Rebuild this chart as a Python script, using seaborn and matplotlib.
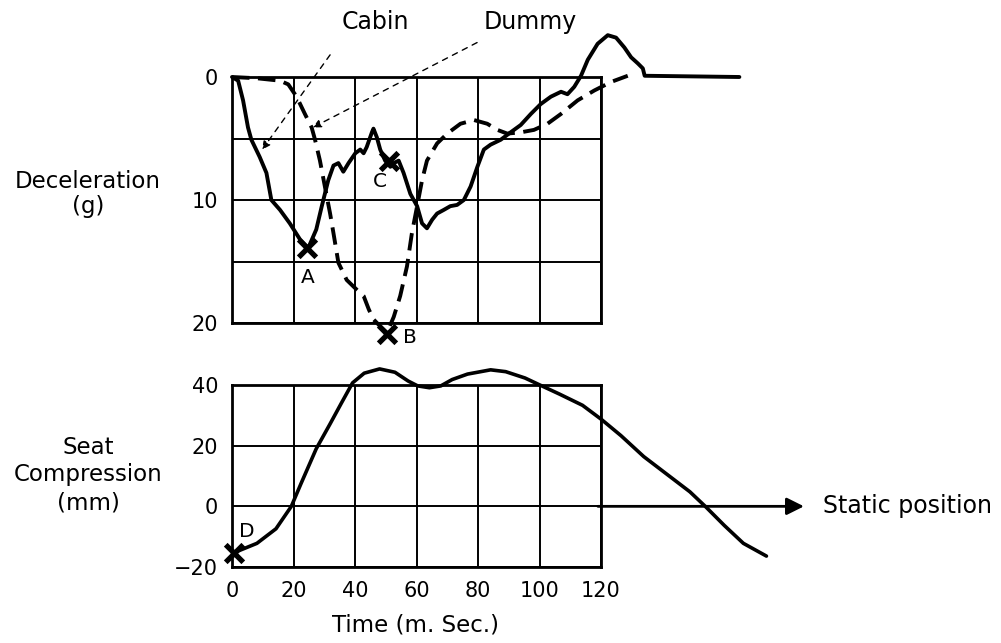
import matplotlib
matplotlib.use("Agg")
import matplotlib.pyplot as plt
import seaborn as sns

sns.set_theme(style="white")
plt.rcParams['font.family'] = ['DejaVu Sans']
plt.rcParams['text.color'] = 'black'
plt.rcParams['xtick.color'] = 'black'
plt.rcParams['ytick.color'] = 'black'

# ---------------- data ----------------
# Top panel: deceleration (g) vs time (ms)
cabin_t = [0, 2, 3.6, 5.2, 6.3, 9, 11.2, 12.8, 15.6, 18.8, 22.1, 24.8, 27.4, 29.2, 31.3, 33,
           34.6, 36.2, 37.9, 40.1, 41.7, 42.8, 43.8, 45.5, 46, 47.1, 48.2, 49.8, 51.5, 52.6,
           54.2, 55.8, 58, 60.2, 61.8, 63.4, 65.1, 66.7, 68.9, 71, 73.2, 75.4, 77.6, 79.8,
           81.9, 84.1, 87.4, 90.6, 93.9, 97.2, 100.4, 103.7, 107, 109.1, 111.3, 113.5, 115.7,
           118.9, 122.2, 124.9, 127.6, 129.8, 132, 133.6, 134.2, 165]
cabin_g = [0, 0.3, 1.9, 4.1, 5.1, 6.5, 7.8, 10, 10.8, 11.9, 13.2, 13.9, 12.4, 10.5, 8.4, 7.2,
           7, 7.7, 7, 6.2, 5.9, 6.2, 5.7, 4.5, 4.2, 4.9, 5.9, 6.8, 7.3, 7,
           6.8, 7.8, 9.5, 10.5, 11.9, 12.3, 11.6, 11.1, 10.8, 10.5, 10.4, 10, 8.9, 7.3,
           5.9, 5.5, 5.1, 4.5, 3.9, 3, 2.2, 1.6, 1.2, 1.4, 0.8, -0.1, -1.4,
           -2.7, -3.4, -3.2, -2.4, -1.6, -1.1, -0.7, -0.1, 0]

dummy_t = [0, 8, 15.6, 18.3, 21, 23.7, 25.9, 27, 28.6, 30.2, 31.9, 33, 34.6, 37.3, 40.6, 42.8,
           44.5, 46, 48.7, 50.4, 52.6, 54.7, 56.9, 58.5, 60.2, 61.8, 63.4, 66.7, 70, 74.3,
           78.7, 83, 86.3, 89.5, 93.9, 98.2, 102.6, 107, 112.4, 117.8, 123.3, 128.7]
dummy_g = [0, 0.1, 0.3, 0.6, 1.6, 3, 4.1, 5.1, 6.8, 8.9, 11.1, 12.7, 15.1, 16.5, 17.3, 17.8,
           18.9, 19.7, 20.4, 20.8, 19.5, 17.8, 15.4, 12.7, 10.5, 8.4, 6.8, 5.4, 4.6, 3.8,
           3.5, 3.8, 4.3, 4.6, 4.5, 4.3, 3.8, 3, 1.9, 1.1, 0.4, -0.1]

# Bottom panel: seat compression (mm) vs time (ms)
seat_t = [0.6, 8.1, 14.3, 19.3, 22.4, 27.4, 31.8, 35.5, 39.2, 43, 48, 53, 57.3, 60.4, 64.2,
          67.9, 71.6, 76.6, 84.1, 89, 95.3, 99.7, 106.5, 114, 120.2, 126.5, 133.9, 141.4,
          148.9, 153.9, 160.1, 166.3, 173.8]
seat_mm = [-15.3, -12.2, -7.4, 0, 7.4, 19, 27, 33.9, 40.7, 43.9, 45.3, 44.2, 41.3, 39.7, 39.1,
           39.7, 41.8, 43.6, 45, 44.4, 42.3, 40.2, 37, 33.3, 28.6, 23.3, 16.4, 10.6,
           4.8, 0, -6.3, -12.2, -16.4]

# marked points
marks_top_t = [24.5, 50.4, 50.9]
marks_top_g = [13.9, 20.9, 6.8]
marks_top_lbl = ["A", "B", "C"]
mark_bot_t = [0.5]
mark_bot_mm = [-15.5]
mark_bot_lbl = ["D"]

time_ticks = [0, 20, 40, 60, 80, 100, 120]
decel_ticks = [0, 5, 10, 15, 20]
decel_labels = ["0", "", "10", "", "20"]
seat_ticks = [-20, 0, 20, 40]
seat_labels = ["\u221220", "0", "20", "40"]

# ---------------- figure ----------------
W, H = 1001, 643
fig = plt.figure(figsize=(W / 100, H / 100), dpi=100)
fig.patch.set_facecolor("white")

def rect(l, t, r, b):
    return [l / W, 1 - b / H, (r - l) / W, (b - t) / H]

ax1 = fig.add_axes(rect(232, 77, 601, 323))
ax2 = fig.add_axes(rect(232, 385, 601, 567))

for ax in (ax1, ax2):
    ax.set_facecolor("none")
    for s in ax.spines.values():
        s.set_visible(True)
        s.set_color("black")
        s.set_linewidth(2.0)
    ax.grid(True, color="black", linewidth=1.4)
    ax.tick_params(length=0, labelsize=15, colors="black", pad=10)
    ax.set_xlabel("")
    ax.set_ylabel("")

LW = 2.8
# top panel
sns.lineplot(x=cabin_t, y=cabin_g, ax=ax1, color="black", lw=LW, sort=False,
             estimator=None, clip_on=False)
sns.lineplot(x=dummy_t, y=dummy_g, ax=ax1, color="black", lw=LW, sort=False,
             estimator=None, clip_on=False, dashes=False)
ax1.lines[-1].set_dashes((4.5, 2.2))
sns.scatterplot(x=marks_top_t, y=marks_top_g, ax=ax1, marker="x", s=160, color="black",
                linewidth=3.8, clip_on=False, zorder=5)
ax1.set_xlim(0, 120)
ax1.set_ylim(20, 0)
ax1.set_xticks(time_ticks)
ax1.set_xticklabels([])
ax1.set_yticks(decel_ticks)
ax1.set_yticklabels(decel_labels)

lbl_off = {"A": (0.2, 2.4), "B": (7.5, 0.3), "C": (-2.8, 1.7)}
for t, g, l in zip(marks_top_t, marks_top_g, marks_top_lbl):
    dx, dy = lbl_off[l]
    ax1.text(t + dx, g + dy, l, fontsize=14.5, ha="center", va="center", color="black")

# legend-like labels with leader lines
ax1.text(46.7, -4.5, "Cabin", fontsize=17, ha="center", va="center", color="black")
ax1.text(97, -4.5, "Dummy", fontsize=17, ha="center", va="center", color="black")
ax1.annotate("", xy=(9.8, 5.9), xytext=(31.9, -1.8), annotation_clip=False,
             arrowprops=dict(arrowstyle="-|>", lw=1.0, ls=(0, (4, 4)), color="black",
                             mutation_scale=12, shrinkA=0, shrinkB=0))
ax1.annotate("", xy=(26.3, 4.1), xytext=(79.7, -2.8), annotation_clip=False,
             arrowprops=dict(arrowstyle="-|>", lw=1.0, ls=(0, (4, 4)), color="black",
                             mutation_scale=12, shrinkA=0, shrinkB=0))

# bottom panel
sns.lineplot(x=seat_t, y=seat_mm, ax=ax2, color="black", lw=2.6, sort=False,
             estimator=None, clip_on=False)
sns.scatterplot(x=mark_bot_t, y=mark_bot_mm, ax=ax2, marker="x", s=160, color="black",
                linewidth=3.8, clip_on=False, zorder=5)
ax2.text(mark_bot_t[0] + 4.4, mark_bot_mm[0] + 7.2, mark_bot_lbl[0], fontsize=14.5,
         ha="center", va="center", color="black")
ax2.set_xlim(0, 120)
ax2.set_ylim(-20, 40)
ax2.set_xticks(time_ticks)
ax2.set_xticklabels([str(v) for v in time_ticks])
ax2.set_yticks(seat_ticks)
ax2.set_yticklabels(seat_labels)

ax2.annotate("", xy=(186, 0), xytext=(119, 0), annotation_clip=False,
             arrowprops=dict(arrowstyle="-|>", lw=2.0, color="black",
                             mutation_scale=26, shrinkA=0, shrinkB=0))
ax2.text(192.2, 0, "Static position", fontsize=17, ha="left", va="center", color="black")

# axis titles
fig.text(88 / W, 1 - 182 / H, "Deceleration", fontsize=16.5, ha="center", va="center")
fig.text(88 / W, 1 - 207 / H, "(g)", fontsize=16.5, ha="center", va="center")
fig.text(88 / W, 1 - 448 / H, "Seat", fontsize=16.5, ha="center", va="center")
fig.text(88 / W, 1 - 475 / H, "Compression", fontsize=16.5, ha="center", va="center")
fig.text(88 / W, 1 - 503 / H, "(mm)", fontsize=16.5, ha="center", va="center")
fig.text(416 / W, 1 - 625 / H, "Time (m. Sec.)", fontsize=16.5, ha="center", va="center")

fig.savefig("out.png", dpi=100, facecolor="white")
